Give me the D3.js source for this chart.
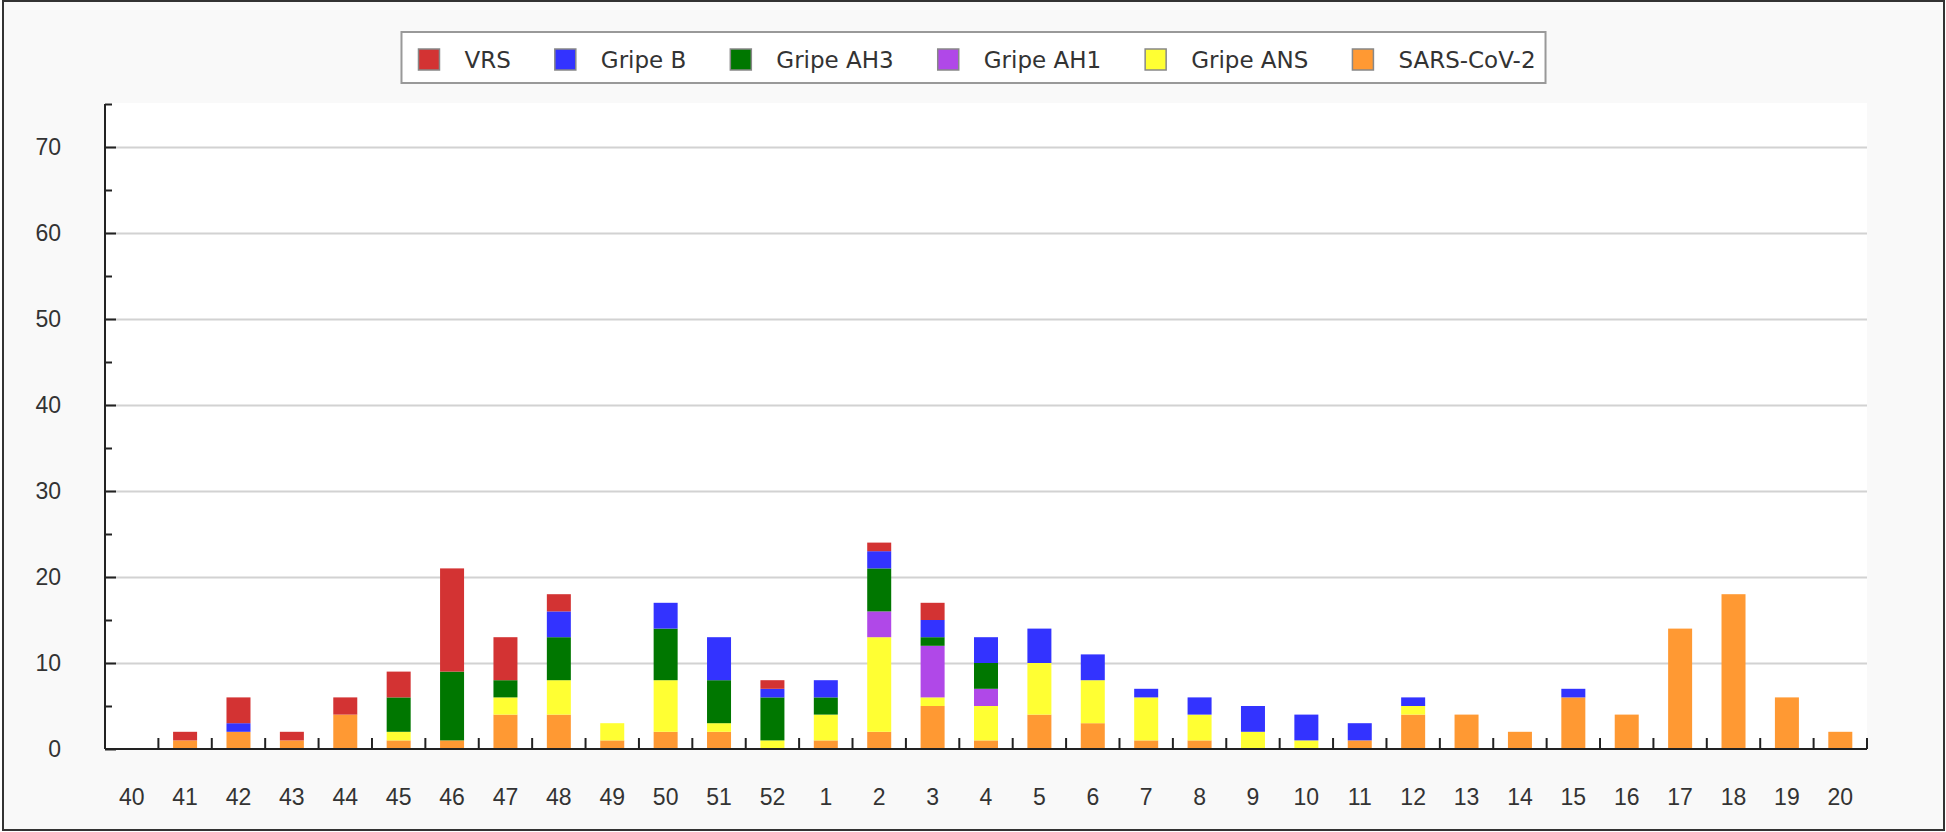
<!doctype html>
<html lang="es">
<head>
  <meta charset="utf-8">
  <title>Virus respiratorios por semana</title>
  <style>
    body { margin: 0; background: #fff; }
    svg { display: block; font-family: "DejaVu Sans", sans-serif; }
    .axis path, .axis line { stroke: #222; stroke-width: 2; }
    .axis text { fill: #333; font-size: 23px; }
    .grid line { stroke: #d2d2d2; stroke-width: 2; }
    .grid path { display: none; }
    .legend text { fill: #333; font-size: 23px; }
  </style>
</head>
<body>
  <script src="https://d3js.org/d3.v7.min.js"></script>
  <script>

// semanas epidemiologicas
var weeks = ["40","41","42","43","44","45","46","47","48","49","50","51","52",
  "1","2","3","4","5","6","7","8","9","10","11","12","13","14","15","16","17","18","19","20"];

// one array per virus, same order as weeks
var sars = [0,1,2,1,4,1,1,4,4,1,2,2,0, 1,2,5,1,4,3,1,1,0,0,1,4,4,2,6,4,14,18,6,2];
var ans  = [0,0,0,0,0,1,0,2,4,2,6,1,1, 3,11,1,4,6,5,5,3,2,1,0,1,0,0,0,0,0,0,0,0];
var ah1  = [0,0,0,0,0,0,0,0,0,0,0,0,0, 0,3,6,2,0,0,0,0,0,0,0,0,0,0,0,0,0,0,0,0];
var ah3  = [0,0,0,0,0,4,8,2,5,0,6,5,5, 2,5,1,3,0,0,0,0,0,0,0,0,0,0,0,0,0,0,0,0];
var gripeB = [0,0,1,0,0,0,0,0,3,0,3,5,1, 2,2,2,3,4,3,1,2,3,3,2,1,0,0,1,0,0,0,0,0];
var vrs  = [0,1,3,1,2,3,12,5,2,0,0,0,1, 0,1,2,0,0,0,0,0,0,0,0,0,0,0,0,0,0,0,0,0];

var yMajor = [0,10,20,30,40,50,60,70];
var yMinor = [5,15,25,35,45,55,65,75];

// stacking order, bottom first
var series = [
  {key: "SARS-CoV-2", values: sars, color: "#ff9933"},
  {key: "Gripe ANS", values: ans, color: "#ffff33"},
  {key: "Gripe AH1", values: ah1, color: "#b048e8"},
  {key: "Gripe AH3", values: ah3, color: "#007700"},
  {key: "Gripe B", values: gripeB, color: "#3333ff"},
  {key: "VRS", values: vrs, color: "#d33333"}
];
var legendOrder = ["VRS","Gripe B","Gripe AH3","Gripe AH1","Gripe ANS","SARS-CoV-2"];

var W = 1946, H = 832;
var pLeft = 105, pRight = 1867, pTop = 104, pBottom = 749;

var rows = weeks.map(function(w, i) {
  var r = {week: w};
  series.forEach(function(s) { r[s.key] = s.values[i]; });
  return r;
});

var svg = d3.select("body").append("svg")
    .attr("width", W)
    .attr("height", H);

// outer frame
svg.append("rect")
    .attr("x", 3).attr("y", 1)
    .attr("width", 1941).attr("height", 829)
    .attr("fill", "#f9f9f9")
    .attr("stroke", "#333")
    .attr("stroke-width", 2);

// plot background
svg.append("rect")
    .attr("x", pLeft).attr("y", pTop - 1)
    .attr("width", pRight - pLeft).attr("height", pBottom - pTop + 1)
    .attr("fill", "#fff");

var x = d3.scaleBand().domain(weeks).range([pLeft, pRight]).padding(0);
var y = d3.scaleLinear().domain([0, 75]).range([pBottom, pTop]);

// gridlines
svg.append("g")
    .attr("class", "grid")
    .attr("transform", "translate(" + pLeft + ",0)")
    .call(d3.axisLeft(y).tickValues(yMajor.slice(1)).tickSize(-(pRight - pLeft)).tickFormat(""));

// bars
var stack = d3.stack().keys(series.map(function(s) { return s.key; }));
var layers = stack(rows);
var barW = 24;

svg.append("g").selectAll("g")
  .data(layers)
  .enter().append("g")
    .attr("fill", function(d, i) { return series[i].color; })
  .selectAll("rect")
  .data(function(d) { return d.filter(function(p) { return p[1] > p[0]; }); })
  .enter().append("rect")
    .attr("x", function(d) { return x(d.data.week) + (x.bandwidth() - barW) / 2; })
    .attr("y", function(d) { return y(d[1]); })
    .attr("width", barW)
    .attr("height", function(d) { return y(d[0]) - y(d[1]); });

// y axis, ticks pointing inward
svg.append("g")
    .attr("class", "axis")
    .attr("transform", "translate(" + pLeft + ",0)")
    .call(d3.axisLeft(y).tickValues(yMajor).tickSize(-11).tickPadding(44).tickSizeOuter(0))
    .call(function(g) { g.select(".domain").attr("d", "M0," + pBottom + "V" + pTop); });

svg.append("g")
    .attr("class", "axis")
    .attr("transform", "translate(" + pLeft + ",0)")
    .call(d3.axisLeft(y).tickValues(yMinor).tickSize(-7).tickFormat(""))
    .call(function(g) { g.select(".domain").remove(); });

// x axis labels
svg.append("g")
    .attr("class", "axis")
    .attr("transform", "translate(0," + pBottom + ")")
    .call(d3.axisBottom(x).tickSize(0).tickPadding(40).tickSizeOuter(0))
    .call(function(g) { g.select(".domain").attr("d", "M" + pLeft + ",0H" + pRight); });

// x ticks sit between the weeks
svg.append("g")
    .attr("class", "axis")
  .selectAll("line")
  .data(weeks)
  .enter().append("line")
    .attr("x1", function(d) { return x(d) + x.bandwidth(); })
    .attr("x2", function(d) { return x(d) + x.bandwidth(); })
    .attr("y1", pBottom)
    .attr("y2", pBottom - 11);

// legend
var legend = svg.append("g").attr("class", "legend");
var box = legend.append("rect")
    .attr("fill", "#fff")
    .attr("stroke", "#999")
    .attr("stroke-width", 2);

var gap = 44;
var cx = 0;
var items = legendOrder.map(function(k) {
  var s = series.find(function(d) { return d.key === k; });
  var g = legend.append("g");
  g.append("rect")
      .attr("x", 0).attr("y", -11)
      .attr("width", 21).attr("height", 21)
      .attr("fill", s.color)
      .attr("stroke", "#888")
      .attr("stroke-width", 1.5);
  var t = g.append("text")
      .attr("x", 46).attr("y", 8)
      .text(k);
  var w = 46 + t.node().getComputedTextLength();
  g.datum(cx);
  cx += w + gap;
  return g;
});
var total = cx - gap;
var lx = 977 - total / 2;
items.forEach(function(g) {
  g.attr("transform", "translate(" + (lx + g.datum()) + ",60)");
});
box.attr("x", lx - 17).attr("y", 32)
    .attr("width", total + 27).attr("height", 51);

  </script>
</body>
</html>
